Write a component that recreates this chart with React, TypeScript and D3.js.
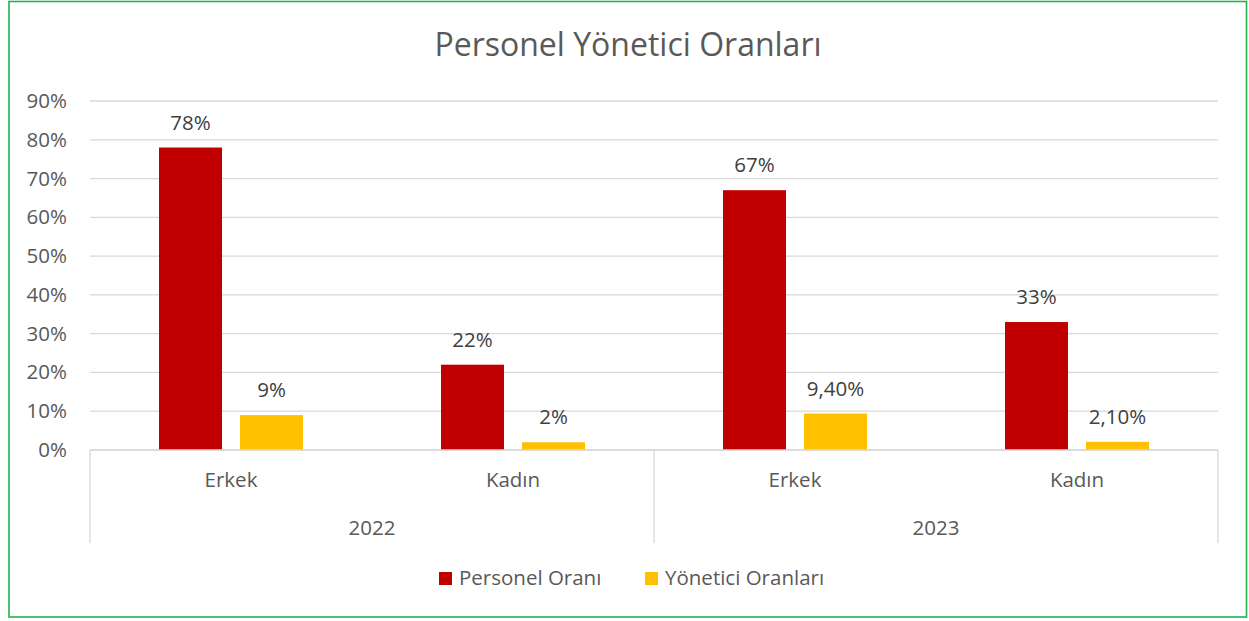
import React from "react";
import * as d3 from "d3";

const years = ["2022", "2023"];
const genders = ["Erkek", "Kadın"];
const seriesNames = ["Personel Oranı", "Yönetici Oranları"];
const personelValues = [78, 22, 67, 33];
const yoneticiValues = [9, 2, 9.4, 2.1];
const personelLabels = ["78%", "22%", "67%", "33%"];
const yoneticiLabels = ["9%", "2%", "9,40%", "2,10%"];
const yTicks = [0, 10, 20, 30, 40, 50, 60, 70, 80, 90];
const colors = ["#C00000", "#FFC000"];

const W = 1249;
const H = 621;
const FONT = "'Open Sans', Lato, sans-serif";
const FS = 20.5;

export default function App() {
  const left = 90, right = 1218, top = 101, bottom = 450;
  const cats = years.flatMap((y) => genders.map((g) => `${y}|${g}`));
  const x = d3.scaleBand<string>().domain(cats).range([left, right]).paddingInner(0).paddingOuter(0);
  const y = d3.scaleLinear().domain([0, 90]).range([bottom, top]);
  const bw = 63;
  const gap = 18;
  const series = [
    { name: seriesNames[0], values: personelValues, labels: personelLabels, color: colors[0] },
    { name: seriesNames[1], values: yoneticiValues, labels: yoneticiLabels, color: colors[1] },
  ];
  const yearScale = d3.scaleBand<string>().domain(years).range([left, right]);

  return (
    <svg width={W} height={H} style={{ position: "absolute", left: 0, top: 0, background: "#fff" }} fontFamily={FONT}>
      <rect x={9} y={1.5} width={1237.5} height={615.5} fill="#fff" stroke="#22B14C" strokeWidth={1.6} />
      <text x={628} y={56} textAnchor="middle" fontSize={32} fill="#595959">Personel Yönetici Oranları</text>
      {yTicks.map((t) => (
        <g key={t}>
          <line x1={left} x2={right} y1={y(t)} y2={y(t)} stroke="#D9D9D9" strokeWidth={1.3} />
          <text x={67} y={y(t) + 7} textAnchor="end" fontSize={FS} fill="#595959">{t}%</text>
        </g>
      ))}
      {[left, (left + right) / 2, right].map((xx, i) => (
        <line key={i} x1={xx} x2={xx} y1={bottom} y2={543} stroke="#D9D9D9" strokeWidth={1.3} />
      ))}
      {cats.map((c, ci) => {
        const cx = (x(c) as number) + x.bandwidth() / 2;
        return (
          <g key={c}>
            {series.map((s, si) => {
              const bx = si === 0 ? cx - gap / 2 - bw : cx + gap / 2;
              const v = s.values[ci];
              return (
                <g key={s.name}>
                  <rect x={bx} y={y(v)} width={bw} height={bottom - y(v)} fill={s.color} />
                  <text x={bx + bw / 2} y={y(v) - 18} textAnchor="middle" fontSize={FS} fill="#404040">{s.labels[ci]}</text>
                </g>
              );
            })}
            <text x={cx} y={487} textAnchor="middle" fontSize={FS} fill="#595959">{c.split("|")[1]}</text>
          </g>
        );
      })}
      {years.map((yr) => (
        <text key={yr} x={(yearScale(yr) as number) + yearScale.bandwidth() / 2} y={535} textAnchor="middle" fontSize={FS} fill="#595959">{yr}</text>
      ))}
      <line x1={left} x2={right} y1={bottom} y2={bottom} stroke="#D9D9D9" strokeWidth={1.3} />
      <rect x={439} y={572} width={13} height={13} fill={colors[0]} />
      <text x={459} y={585} fontSize={FS} fill="#595959">{seriesNames[0]}</text>
      <rect x={645} y={572} width={13} height={13} fill={colors[1]} />
      <text x={665} y={585} fontSize={FS} fill="#595959">{seriesNames[1]}</text>
    </svg>
  );
}
